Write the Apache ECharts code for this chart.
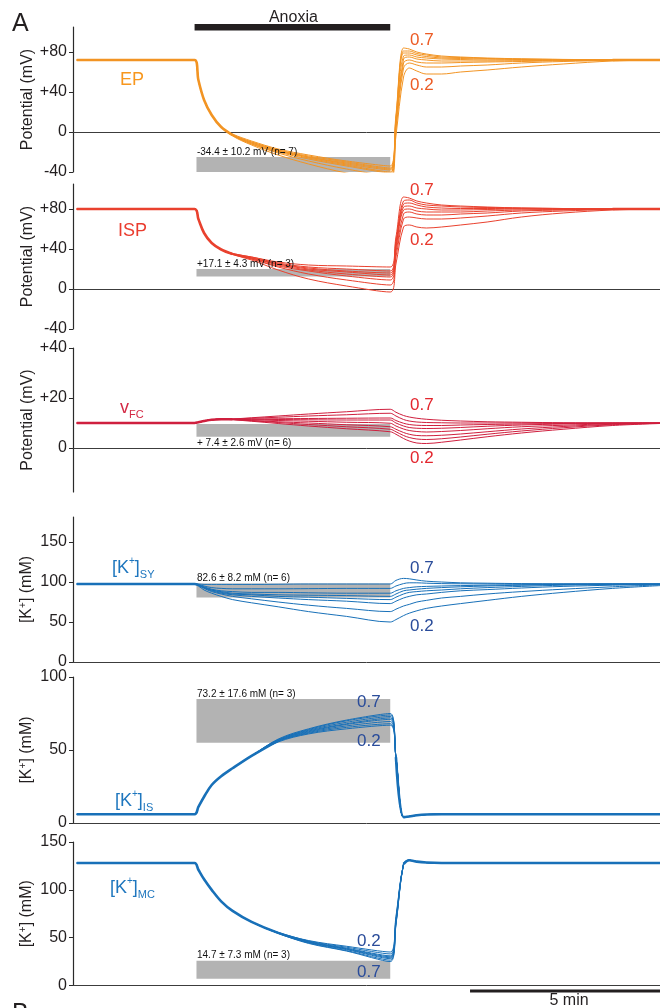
<!DOCTYPE html>
<html><head><meta charset="utf-8">
<script src="https://cdn.jsdelivr.net/npm/echarts@6/dist/echarts.min.js"></script>
<style>html,body{margin:0;padding:0;background:#fff}#c{width:660px;height:1008px}</style>
</head><body><div id="c"></div>
<script>
// ---------------- DATA ----------------
// time (min), 0 = anoxia onset
const T = [-3.1, 0, 0.1, 0.25, 0.45, 0.7, 1.0, 1.5, 2.2, 3.0, 4.0, 5.15, 5.3, 5.5, 5.65, 5.85, 6.1, 6.5, 7.0, 7.7, 8.6, 9.7, 11, 12.25];
const traceNames = ['0.2','0.27','0.34','0.41','0.49','0.56','0.63','0.7'];

// EP potential (mV)
const epTraces = [
 [72,72,52,32,17,5,-4, -13,-23,-32,-41,-48, -4,55,64,61,58,58,60,62,65,68,71,72],
 [72,72,52,32,17,5,-3.5, -12,-21,-29,-37,-44, 2,64,69,67,65,65,66,67,69,70.5,71.5,72],
 [72,72,52,32,17,5,-3, -12,-20,-27,-34,-41, 6,69,72,70,69,69,69.5,70,70.5,71.3,71.8,72],
 [72,72,52,32,17,5,-3, -11,-19,-26,-33,-40, 9,73,75,73,72,71,71,71,71.3,71.7,72,72],
 [72,72,52,32,17,5,-3, -11,-19,-25,-32,-38, 11,76,77,75,74,73,72.5,72,72,72,72,72],
 [72,72,52,32,17,5,-3, -10,-18,-25,-31,-37, 13,79,79,77,75.5,74,73.5,73,72.5,72.2,72,72],
 [72,72,52,32,17,5,-2.5, -10,-18,-24,-30,-36, 14,81,81,78.5,77,75,74.5,73.5,73,72.5,72.2,72],
 [72,72,52,32,17,5,-2, -9,-17,-23,-29,-34, 17,84,83,80,78,76,75,74,73.2,72.6,72.2,72]
];
// ISP potential (mV)
const ispTraces = [
 [80,80,70,56,46,39.5,34.5, 29,19,10,3,-3, 25,62,64,62,61,62,64,67,72,76,79,80],
 [80,80,70,56,46,39.5,34.5, 30,22,15,9,4, 32,70,72,71,70,70,71,73,76,78,79.5,80],
 [80,80,70,56,46,39.5,35, 30,23,18,13,9, 37,75,77,75,74,74,75,76,78,79,80,80],
 [80,80,70,56,46,39.5,35, 31,24,19,15,12, 41,79,80,78,77,77,77,78,79,79.5,80,80],
 [80,80,70,56,46,39.5,35, 31,25,20,17,14, 43,82,83,81,80,79,79,79.5,80,80,80,80],
 [80,80,70,56,46,39.5,35, 31,25,21,18,16, 46,85,86,84,82,81,80.5,80.5,80.3,80,80,80],
 [80,80,70,56,46,39.5,35.5, 32,26,22,20,18, 48,88,89,86,84,83,82,81.5,81,80.5,80,80],
 [80,80,70,56,46,39.5,35.5, 32,27,24,23,22, 52,92,91,88,86,84,83,82,81,80.5,80.2,80]
];
// vFC potential (mV)
const vfcTraces = [
 [10,10,10.3,10.8,11.3,11.5,11.3, 10.7,9.8,8.8,7.7,6.5, 5.5,3.8,2.8,2.0,1.8,2.3,3.2,4.5,6.0,7.5,9.0,9.8],
 [10,10,10.3,10.8,11.3,11.5,11.4, 10.9,10.2,9.4,8.5,7.5, 6.5,5.0,4.2,3.6,3.4,3.7,4.4,5.5,6.8,8.1,9.3,9.9],
 [10,10,10.3,10.8,11.3,11.5,11.4, 11.0,10.5,10.0,9.3,8.5, 7.5,6.2,5.5,5.0,4.9,5.1,5.6,6.5,7.6,8.6,9.5,9.9],
 [10,10,10.3,10.8,11.3,11.5,11.5, 11.3,11.0,10.7,10.3,9.9, 8.8,7.6,7.0,6.6,6.4,6.6,7.0,7.7,8.5,9.1,9.7,10],
 [10,10,10.3,10.8,11.3,11.5,11.5, 11.5,11.4,11.3,11.2,11.2, 10.0,8.8,8.2,7.9,7.8,7.9,8.2,8.7,9.2,9.6,9.9,10],
 [10,10,10.3,10.8,11.3,11.5,11.5, 11.6,11.7,11.8,11.9,12.0, 11.0,9.9,9.4,9.1,9.0,9.0,9.2,9.4,9.6,9.8,10,10],
 [10,10,10.3,10.8,11.3,11.5,11.6, 11.9,12.3,12.8,13.3,13.9, 12.8,11.4,10.8,10.4,10.2,10.1,10.0,10.0,10.0,10.0,10,10],
 [10,10,10.3,10.8,11.3,11.5,11.6, 12.1,12.8,13.6,14.5,15.5, 14.3,13.0,12.4,11.9,11.5,11.1,10.8,10.5,10.3,10.1,10,10]
];
// [K+]SY (mM)
const sySeries = [
 [97.5,97.5,95,90,86,82,78, 74,69,63,57,50, 53,58,61,64,67,70,73,77,82,87,92,95.5],
 [97.5,97.5,95.5,92,88,85,82, 79,75,71,67,63, 66,70,72,75,77,80,82,85,88,91,94,96.5],
 [97.5,97.5,96,93,89,86,84, 82,80,78,76,73, 76,80,82,84,85,87,89,90.5,92.5,94.5,96,97],
 [97.5,97.5,96,93,90,87,85, 84,82,81,79.5,78, 81,85,87,88,89,90,91.5,93,94.5,96,97,97.5],
 [97.5,97.5,96,93,90,88,86, 85,84,83.5,83,82, 85,89,90,91,92,93,94,95,96,97,97.5,97.5],
 [97.5,97.5,96.5,94,91,89,88, 87,87,86.5,86,86, 89,92,93,94,94.5,95,95.5,96,96.5,97,97.5,97.5],
 [97.5,97.5,97,95,93,92,91.5, 91.5,91.5,91.7,92,92, 95,98,99,99,98.5,98,97.8,97.6,97.5,97.5,97.5,97.5],
 [97.5,97.5,97.5,97,97,97,97, 97,97.2,97.5,97.5,97.5, 102,104.5,104,102.5,101,100,99,98.5,98,97.7,97.5,97.5]
];
// [K+]IS (mM)
const isSeries = [
 [6,6,11,18,26,32,37.5,46, 55.5,61,64.5,67, 45,4,4.5,5.3,5.8,6,6,6,6,6,6,6],
 [6,6,11,18,26,32,37.5,46, 56,61.5,65.5,68, 45,4,4.5,5.3,5.8,6,6,6,6,6,6,6],
 [6,6,11,18,26,32,37.5,46, 56,62,66.5,69.5, 45,4,4.5,5.3,5.8,6,6,6,6,6,6,6],
 [6,6,11,18,26,32,37.5,46, 56.5,62.5,67.5,71, 45,4,4.5,5.3,5.8,6,6,6,6,6,6,6],
 [6,6,11,18,26,32,37.5,46, 56.5,63,68,72, 45,4,4.5,5.3,5.8,6,6,6,6,6,6,6],
 [6,6,11,18,26,32,37.5,46, 57,63.5,69,73, 45,4,4.5,5.3,5.8,6,6,6,6,6,6,6],
 [6,6,11,18,26,32,37.5,46, 57,64,70,74, 45,4,4.5,5.3,5.8,6,6,6,6,6,6,6],
 [6,6,11,18,26,32,37.5,46, 57.5,64.5,70.5,75, 45,4,4.5,5.3,5.8,6,6,6,6,6,6,6]
];
// [K+]MC (mM)
const mcSeries = [
 [128,128,121,111,100,88,78,66.5, 55.5,47,41,35, 72,127,131,129.5,128.5,128,128,128,128,128,128,128],
 [128,128,121,111,100,88,78,66.5, 55.3,46.5,40,33, 70,127,131,129.5,128.5,128,128,128,128,128,128,128],
 [128,128,121,111,100,88,78,66.5, 55,46,39,31, 68,127,131,129.5,128.5,128,128,128,128,128,128,128],
 [128,128,121,111,100,88,78,66.5, 55,45.5,38.5,30, 67,127,131,129.5,128.5,128,128,128,128,128,128,128],
 [128,128,121,111,100,88,78,66.5, 55,45.5,38,29, 66,127,131,129.5,128.5,128,128,128,128,128,128,128],
 [128,128,121,111,100,88,78,66.5, 54.8,45,37.5,28, 65,127,131,129.5,128.5,128,128,128,128,128,128,128],
 [128,128,121,111,100,88,78,66.5, 54.6,44.5,36.5,26.5, 64,127,131,129.5,128.5,128,128,128,128,128,128,128],
 [128,128,121,111,100,88,78,66.5, 54.5,44,36,25, 63,127,131,129.5,128.5,128,128,128,128,128,128,128]
];

// mean ± SD boxes (value ranges) and their time span
const boxT = [0.05, 5.15];
const epBox = [-45, -25];
const ispBox = [12.5, 20];
const vfcBox = [4.5, 9.6];
const syBox = [80.5, 98];
const isBox = [55, 85];
const mcBox = [7, 26];
const boxTexts = ['-34.4 ± 10.2 mV (n= 7)', '+17.1 ± 4.3 mV (n= 3)', '+ 7.4 ± 2.6 mV (n= 6)',
                  '82.6 ± 8.2 mM (n= 6)', '73.2 ± 17.6 mM (n= 3)', '14.7 ± 7.3 mM (n= 3)'];

// axis ticks
const epTicks = [-40, 0, 40, 80], epTickLabels = ['-40', '0', '+40', '+80'];
const ispTicks = [-40, 0, 40, 80], ispTickLabels = ['-40', '0', '+40', '+80'];
const vfcTicks = [0, 20, 40], vfcTickLabels = ['0', '+20', '+40'];
const syTicks = [0, 50, 100, 150], syTickLabels = ['0', '50', '100', '150'];
const isTicks = [0, 50, 100], isTickLabels = ['0', '50', '100'];
const mcTicks = [0, 50, 100, 150], mcTickLabels = ['0', '50', '100', '150'];

const anoxia = [0, 5.15];
const scaleBar = [7.25, 12.25];
const xRange = [-3.2, 12.25];

// ---------------- STYLE / LAYOUT ----------------
const FONT = "'Liberation Sans', Arial, Helvetica, sans-serif";
const AX = '#2a2a2a';
const SMOOTH = 0.35;
const panels = [
 {tr: epTraces, color: '#F29423', top: 27, height: 145, y: [-40, 105], ticks: epTicks, labels: epTickLabels, name: 'Potential (mV)', box: epBox, tol: 2.5, boxTextDy: -8},
 {tr: ispTraces, color: '#E9412E', top: 184, height: 145, y: [-40, 105], ticks: ispTicks, labels: ispTickLabels, name: 'Potential (mV)', box: ispBox, tol: 2.5, boxTextDy: -8},
 {tr: vfcTraces, color: '#CF1F3E', top: 348, height: 144, y: [-17.6, 40], ticks: vfcTicks, labels: vfcTickLabels, name: 'Potential (mV)', box: vfcBox, tol: 0.8, boxTextDy: 9},
 {tr: sySeries, color: '#1870B8', top: 517, height: 145, y: [0, 181.25], ticks: syTicks, labels: syTickLabels, name: '{a|[K}{s|+}{a|] (mM)}', box: syBox, tol: 2.5, boxTextDy: -8},
 {tr: isSeries, color: '#1870B8', top: 677, height: 146, y: [0, 100], ticks: isTicks, labels: isTickLabels, name: '{a|[K}{s|+}{a|] (mM)}', box: isBox, tol: 3, boxTextDy: -8},
 {tr: mcSeries, color: '#1870B8', top: 842, height: 143.5, y: [0, 150], ticks: mcTicks, labels: mcTickLabels, name: '{a|[K}{s|+}{a|] (mM)}', box: mcBox, tol: 3, boxTextDy: -8}
];

const grid = [], xAxis = [], yAxis = [], series = [];
panels.forEach((p, i) => {
  grid.push({left: 73, right: 0, top: p.top, height: p.height});
  xAxis.push({type: 'value', gridIndex: i, min: xRange[0], max: xRange[1],
    axisLine: {show: true, onZero: true, lineStyle: {color: '#3c3c3c', width: 1}},
    axisTick: {show: false}, axisLabel: {show: false}, splitLine: {show: false}});
  yAxis.push({type: 'value', gridIndex: i, min: p.y[0], max: p.y[1],
    axisLine: {show: true, onZero: false, lineStyle: {color: AX, width: 1.2}},
    axisTick: {show: true, customValues: p.ticks, length: 4, lineStyle: {color: AX, width: 1}},
    axisLabel: {customValues: p.ticks, formatter: v => p.labels[p.ticks.indexOf(v)], fontSize: 16, color: '#231F20', fontFamily: FONT, margin: 6},
    splitLine: {show: false},
    name: p.name, nameLocation: 'middle', nameGap: 37, nameMoveOverlap: false,
    nameTextStyle: {fontSize: 16, color: '#231F20', fontFamily: FONT,
      rich: {a: {fontSize: 16, fontFamily: FONT, color: '#231F20'}, s: {fontSize: 10, fontFamily: FONT, color: '#231F20', verticalAlign: 'top', lineHeight: 18}}}});
  // gray box
  series.push({type: 'line', xAxisIndex: i, yAxisIndex: i, data: [], z: 1, silent: true,
    markArea: {silent: true, itemStyle: {color: '#B3B3B3'},
      data: [[{xAxis: boxT[0], yAxis: p.box[0]}, {xAxis: boxT[1], yAxis: p.box[1]}]]}});
  // individual traces
  p.tr.forEach((tr, k) => {
    series.push({type: 'line', name: traceNames[k], xAxisIndex: i, yAxisIndex: i, z: 3, silent: true,
      showSymbol: false, symbol: 'none', smooth: SMOOTH, lineStyle: {color: p.color, width: 1},
      data: T.map((t, j) => [t, tr[j]])});
  });
  // where all traces coincide, they overlap into a thicker stroke
  const mid = p.tr[3];
  series.push({type: 'line', xAxisIndex: i, yAxisIndex: i, z: 4, silent: true, showSymbol: false, symbol: 'none',
    smooth: SMOOTH, lineStyle: {color: p.color, width: 2.6}, connectNulls: false,
    data: T.map((t, j) => {
      const vals = p.tr.map(r => r[j]);
      return (Math.max(...vals) - Math.min(...vals) <= p.tol) ? [t, mid[j]] : [t, '-'];
    })});
});

const chart = echarts.init(document.getElementById('c'), null, {renderer: 'canvas'});
chart.setOption({animation: false, backgroundColor: '#fff', grid, xAxis, yAxis, series});

// ---------------- ANNOTATIONS (positioned via axis scale) ----------------
const px = v => chart.convertToPixel({xAxisIndex: 0}, v);
const py = (i, v) => chart.convertToPixel({yAxisIndex: i}, v);
const txt = (x, y, text, size, fill, extra) => Object.assign({type: 'text', x, y, z: 100, silent: true,
  style: Object.assign({text, fill, fontSize: size, fontFamily: FONT, align: 'left', verticalAlign: 'middle'}, extra && extra.style || {})}, extra && extra.el || {});

const g = [];
g.push(txt(12, 24, 'A', 25, '#231F20'));
g.push(txt(12, 1014, 'B', 25, '#231F20'));
const a0 = px(anoxia[0]), a1 = px(anoxia[1]);
g.push({type: 'rect', z: 100, silent: true, shape: {x: a0, y: 24, width: a1 - a0, height: 6.5}, style: {fill: '#231F20'}});
g.push(txt((a0 + a1) / 2 + 1, 17.5, 'Anoxia', 16, '#231F20', {style: {align: 'center'}}));
const s0 = px(scaleBar[0]), s1 = px(scaleBar[1]);
g.push({type: 'rect', z: 100, silent: true, shape: {x: s0, y: 989.5, width: s1 - s0, height: 3}, style: {fill: '#231F20'}});
g.push(txt((s0 + s1) / 2 + 4, 1001, '5 min', 16, '#231F20', {style: {align: 'center'}}));

// box annotations
panels.forEach((p, i) => {
  const yEdge = p.boxTextDy < 0 ? py(i, p.box[1]) : py(i, p.box[0]);
  g.push(txt(px(boxT[0]) + 0.5, yEdge + p.boxTextDy + (p.boxTextDy < 0 ? 3 : -3), boxTexts[i], 10, '#111'));
});

// panel names
g.push(txt(120, 80, 'EP', 18, '#F7971E'));
g.push(txt(118, 231, 'ISP', 18, '#EA3C2E'));
const rk = (col) => ({rich: {
  a: {fontSize: 18, fontFamily: FONT, fill: col, lineHeight: 24, verticalAlign: 'middle'},
  s: {fontSize: 10, fontFamily: FONT, fill: col, lineHeight: 24, verticalAlign: 'top'},
  b: {fontSize: 11, fontFamily: FONT, fill: col, lineHeight: 24, verticalAlign: 'bottom'}}});
g.push(txt(120, 408, '{a|v}{b|FC}', 19, '#D42A45', {style: rk('#D42A45')}));
g.push(txt(112, 568, '{a|[K}{s|+}{a|]}{b|SY}', 18, '#1E76BE', {style: rk('#1E76BE')}));
g.push(txt(115, 801, '{a|[K}{s|+}{a|]}{b|IS}', 18, '#1E76BE', {style: rk('#1E76BE')}));
g.push(txt(110, 888, '{a|[K}{s|+}{a|]}{b|MC}', 18, '#1E76BE', {style: rk('#1E76BE')}));

// 0.7 / 0.2 labels
const lab = [
  ['#EC5B24', 410, 40, 410, 85.5],
  ['#E8382C', 410, 190.5, 410, 240],
  ['#E3262E', 410, 405, 410, 458.5],
  ['#2A4C9A', 410, 568.5, 410, 626.5],
  ['#2A4C9A', 357, 702.5, 357, 741.5],
  ['#2A4C9A', 357, 972, 357, 941.5]
];
lab.forEach(l => {
  g.push(txt(l[1], l[2], '0.7', 17, l[0]));
  g.push(txt(l[3], l[4], '0.2', 17, l[0]));
});
chart.setOption({graphic: g});
</script></body></html>
